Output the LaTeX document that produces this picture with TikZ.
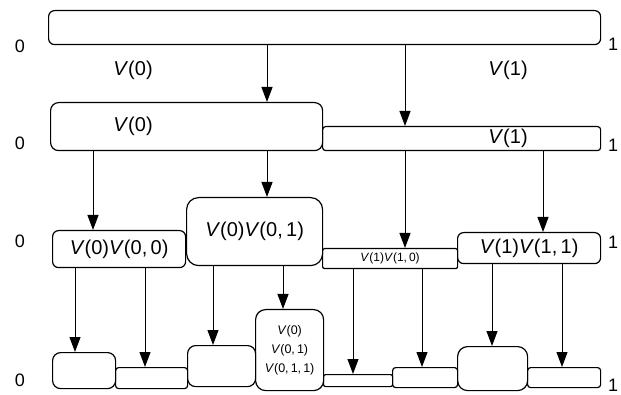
\documentclass[tikz,border=0pt]{standalone}
\usepackage{fontspec}
\setmainfont{Liberation Sans}
\usetikzlibrary{arrows.meta}
\newcommand{\Vn}[1]{\textit{V}(#1)}
\begin{document}
\begin{tikzpicture}[x=1pt, y=-1pt,
  cell/.style={draw, line width=1.2pt, rounded corners=#1, inner sep=0pt, anchor=north west},
  cell/.default=4pt,
  arr/.style={line width=1pt, -{Triangle[length=15pt, width=11pt]}},
  lbl/.style={font=\fontsize{20}{22}\selectfont},
  end/.style={font=\fontsize{18}{20}\selectfont}]
\useasboundingbox (0,0) rectangle (621,395);
% Level 0
\node[cell=6pt, minimum width=552pt, minimum height=34pt] (top) at (48,10) {};
\node[lbl] (t0) at (133,70) {\Vn{0}};
\node[lbl] (t1) at (508,70) {\Vn{1}};
\node[end] (z0) at (20,46) {0};
\node[end] (o0) at (613,44) {1};
% Level 1
\node[cell=8pt, minimum width=272pt, minimum height=48pt] (a0) at (50,102) {};
\node[cell=3pt, minimum width=278pt, minimum height=24pt] (a1) at (322,126) {};
\node[lbl] (a0t) at (133,126) {\Vn{0}};
\node[lbl] (a1t) at (508,138) {\Vn{1}};
\node[end] (z1) at (20,143) {0};
\node[end] (o1) at (613,145) {1};
% Level 2
\node[cell=6pt, lbl, minimum width=133pt, minimum height=37pt] (b00) at (52,230) {\Vn{0}\Vn{0,\,0}};
\node[cell=12pt, lbl, minimum width=136pt, minimum height=68pt] (b01) at (186,197) {\Vn{0}\Vn{0,\,1}};
\node[cell=2pt, minimum width=135pt, minimum height=20pt, font=\fontsize{12}{13}\selectfont] (b10) at (322,248) {\Vn{1}\Vn{1,\,0}};
\node[cell=6pt, lbl, minimum width=143pt, minimum height=31pt] (b11) at (457,232) {\Vn{1}\Vn{1,\,1}};
\node[end] (z2) at (20,241) {0};
\node[end] (o2) at (613,242) {1};
% Level 3
\node[cell=8pt, minimum width=63pt, minimum height=36pt] (c000) at (52,352) {};
\node[cell=3pt, minimum width=72pt, minimum height=21pt] (c001) at (115,367) {};
\node[cell=8pt, minimum width=68pt, minimum height=41pt] (c010) at (187,345) {};
\node[cell=10pt, minimum width=68pt, minimum height=81pt, align=center,
      font=\fontsize{12.5}{19}\selectfont] (c011) at (255,309) {\Vn{0}\\\Vn{0,\,1}\\\Vn{0,\,1,\,1}};
\node[cell=2pt, minimum width=69pt, minimum height=12pt] (c100) at (323,374) {};
\node[cell=3pt, minimum width=65pt, minimum height=20pt] (c101) at (392,367) {};
\node[cell=10pt, minimum width=70pt, minimum height=44pt] (c110) at (457,346) {};
\node[cell=3pt, minimum width=73pt, minimum height=20pt] (c111) at (527,367) {};
\node[end] (z3) at (20,380) {0};
\node[end] (o3) at (613,385) {1};
% Arrows
\draw[arr] (top.south -| 267,0) -- (a0.north -| 267,0);
\draw[arr] (top.south -| 405,0) -- (a1.north -| 405,0);
\draw[arr] (a0.south -| 93,0) -- (b00.north -| 93,0);
\draw[arr] (a0.south -| 267,0) -- (b01.north -| 267,0);
\draw[arr] (a1.south -| 405,0) -- (b10.north -| 405,0);
\draw[arr] (a1.south -| 543,0) -- (b11.north -| 543,0);
\draw[arr] (b00.south -| 75,0) -- (c000.north -| 75,0);
\draw[arr] (b00.south -| 145,0) -- (c001.north -| 145,0);
\draw[arr] (b01.south -| 213,0) -- (c010.north -| 213,0);
\draw[arr] (b01.south -| 283,0) -- (c011.north -| 283,0);
\draw[arr] (b10.south -| 353,0) -- (c100.north -| 353,0);
\draw[arr] (b10.south -| 422,0) -- (c101.north -| 422,0);
\draw[arr] (b11.south -| 492,0) -- (c110.north -| 492,0);
\draw[arr] (b11.south -| 562,0) -- (c111.north -| 562,0);
\end{tikzpicture}
\end{document}
